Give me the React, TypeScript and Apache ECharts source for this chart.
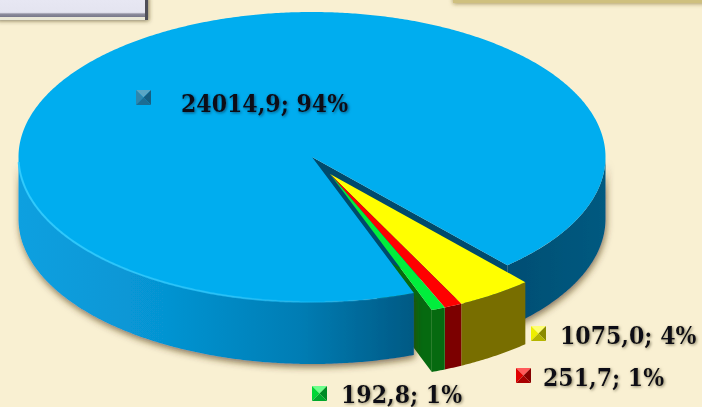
import React, { useEffect, useRef } from "react";
import * as echarts from "echarts";

const sliceNames = ["Blue", "Yellow", "Red", "Green"];
const sliceValues = [24014.9, 1075.0, 251.7, 192.8];
const topColors = ["#00ADEF", "#FFFF00", "#FF0000", "#00EE3C"];
const wallColors = ["#005A85", "#786E00", "#7C0000", "#066A10"];
const keyShades = [
  ["#5aa6c4", "#2f86ad", "#155f82", "#1c6d94"],
  ["#ffff70", "#eeee00", "#8a8a00", "#b5b500"],
  ["#ff5a5a", "#e00000", "#860000", "#a80000"],
  ["#6dff8c", "#00d636", "#008a24", "#00a82c"],
];
const keyPos = [[136, 90], [531, 326], [516, 368], [312, 386]];
const labelPos = [[181, 103], [560, 335], [543, 377], [341, 394]];
const labelShadow = ["#0a4f78", "#8a8368", "#8a8368", "#8a8368"];

const CX = 312, CY = 157, RX = 293.5, RY = 145, DEPTH = 62;
const EX = 18, EY = 17;
const START = 69.7;
const total = sliceValues.reduce((a, b) => a + b, 0);
const rad = (d: number) => (d * Math.PI) / 180;

const arc = (a: number, b: number, dx = 0, dy = 0) => {
  const pts: number[][] = [];
  const n = Math.max(2, Math.ceil(Math.abs(b - a) * 2));
  for (let i = 0; i <= n; i++) {
    const t = rad(a + ((b - a) * i) / n);
    pts.push([CX + dx + RX * Math.cos(t), CY + dy + RY * Math.sin(t)]);
  }
  return pts;
};

const wallGradient = () =>
  new echarts.graphic.LinearGradient(18, 0, 605, 0, [
    { offset: 0, color: "#0AA0E0" },
    { offset: 0.25, color: "#0694D2" },
    { offset: 0.48, color: "#007DB4" },
    { offset: 0.67, color: "#005A85" },
    { offset: 0.85, color: "#004F75" },
    { offset: 1, color: "#005A80" },
  ], true);

const rimGradient = () =>
  new echarts.graphic.LinearGradient(18, 0, 420, 0, [
    { offset: 0, color: "rgba(50,205,255,0.9)" },
    { offset: 0.55, color: "rgba(40,195,250,0.8)" },
    { offset: 1, color: "rgba(0,173,239,0)" },
  ], true);

function renderItem(params: any, api: any) {
  const i = params.dataIndex;
  const before = sliceValues.slice(0, i).reduce((a, b) => a + b, 0);
  const a0 = START + (before / total) * 360;
  const a1 = START + ((before + api.value(0)) / total) * 360;
  const exploded = i > 0;
  const dx = exploded ? EX : 0;
  const dy = exploded ? EY : 0;
  const children: any[] = [];
  const poly = (points: number[][], style: any, z2: number) =>
    children.push({ type: "polygon", z2, shape: { points }, style });
  const apex = [CX + dx, CY + dy];
  const top = arc(a0, a1, dx, dy);

  if (!exploded) {
    // side wall: visible only on the near half of the ellipse
    const wall = (from: number, to: number) => {
      const up = arc(from, to);
      const down = up.map(([x, y]) => [x, y + DEPTH]).reverse();
      poly(up.concat(down), {
        fill: wallGradient(),
        shadowBlur: 7,
        shadowColor: "rgba(70,50,10,0.65)",
        shadowOffsetX: 1,
        shadowOffsetY: 3,
      }, 2);
    };
    wall(START, 180);
    const endA = a1; // a1 wraps past 360
    wall(0, endA - 360);
    const cut = arc(endA, endA)[0];
    poly([apex, cut, [cut[0], cut[1] + DEPTH], [apex[0], apex[1] + DEPTH]], { fill: "#004A6C" }, 3);
    poly([apex].concat(top), { fill: topColors[i] }, 4);
    children.push({
      type: "polyline",
      z2: 5,
      shape: { points: arc(START, 178) },
      style: { stroke: rimGradient(), fill: "none", lineWidth: 2 },
    });
  } else {
    const up = top;
    const down = up.map(([x, y]) => [x, y + DEPTH]).reverse();
    poly(up.concat(down), { fill: wallColors[i] }, 6);
    poly([apex].concat(top), { fill: topColors[i] }, 7);
    if (i === sliceNames.length - 1) {
      const edge = top[top.length - 1];
      poly([apex, edge, [edge[0], edge[1] + DEPTH], [apex[0], apex[1] + DEPTH]], { fill: wallColors[i] }, 1);
    }
  }

  const [kx, ky] = keyPos[i];
  const S = 15;
  const c = [kx + S / 2, ky + S / 2];
  const shades = keyShades[i];
  const corners = [[kx, ky], [kx + S, ky], [kx + S, ky + S], [kx, ky + S]];
  [[0, 1, 0], [3, 0, 1], [1, 2, 2], [2, 3, 3]].forEach(([p, q, s]) =>
    poly([corners[p], corners[q], c], { fill: shades[s] }, 9));

  const [lx, ly] = labelPos[i];
  children.push({
    type: "text",
    z2: 10,
    style: {
      text: `${api.value(0).toFixed(1).replace(".", ",")}; ${Math.round((api.value(0) / total) * 100)}%`,
      x: lx,
      y: ly,
      fill: "#0b0b12",
      font: 'bold 24.5px "DejaVu Serif Condensed", "DejaVu Serif", serif',
      align: "left",
      verticalAlign: "middle",
      textAlign: "left",
      textVerticalAlign: "middle",
      textShadowColor: labelShadow[i],
      textShadowBlur: 3,
      textShadowOffsetX: 1,
      textShadowOffsetY: 1,
    },
  });
  return { type: "group", children };
}

export default function App() {
  const ref = useRef<HTMLDivElement>(null);
  useEffect(() => {
    document.body.style.margin = "0";
    const chart = echarts.init(ref.current!, null, { renderer: "svg" });
    chart.setOption({
      animation: false,
      backgroundColor: "#F9F0D2",
      graphic: [
        {
          type: "rect",
          z: 1,
          shape: { x: -4, y: -4, width: 152, height: 24 },
          style: { fill: "#E9E7D6", shadowBlur: 4, shadowColor: "rgba(60,50,20,0.6)", shadowOffsetX: 1, shadowOffsetY: 1 },
        },
        {
          type: "rect",
          z: 2,
          shape: { x: -4, y: -4, width: 152, height: 21 },
          style: {
            fill: new echarts.graphic.LinearGradient(0, 0, 0, 1, [
              { offset: 0, color: "#E8E8F4" },
              { offset: 0.78, color: "#E4E4F0" },
              { offset: 0.86, color: "#8C8C9C" },
              { offset: 1, color: "#77778A" },
            ]),
          },
        },
        {
          type: "rect",
          z: 3,
          shape: { x: 145, y: -4, width: 3, height: 24 },
          style: { fill: "#4E4E58" },
        },
        {
          type: "rect",
          z: 1,
          shape: { x: 453, y: -6, width: 260, height: 9 },
          style: { fill: "#CFC07F", shadowBlur: 4, shadowColor: "rgba(120,100,30,0.6)", shadowOffsetY: 1 },
        },
      ],
      xAxis: { show: false },
      yAxis: { show: false },
      series: [
        {
          type: "custom",
          coordinateSystem: "none",
          silent: true,
          renderItem,
          data: sliceValues.map((v, k) => ({ name: sliceNames[k], value: [v] })),
        },
      ],
    });
    return () => chart.dispose();
  }, []);
  return <div ref={ref} style={{ width: 702, height: 407 }} />;
}
